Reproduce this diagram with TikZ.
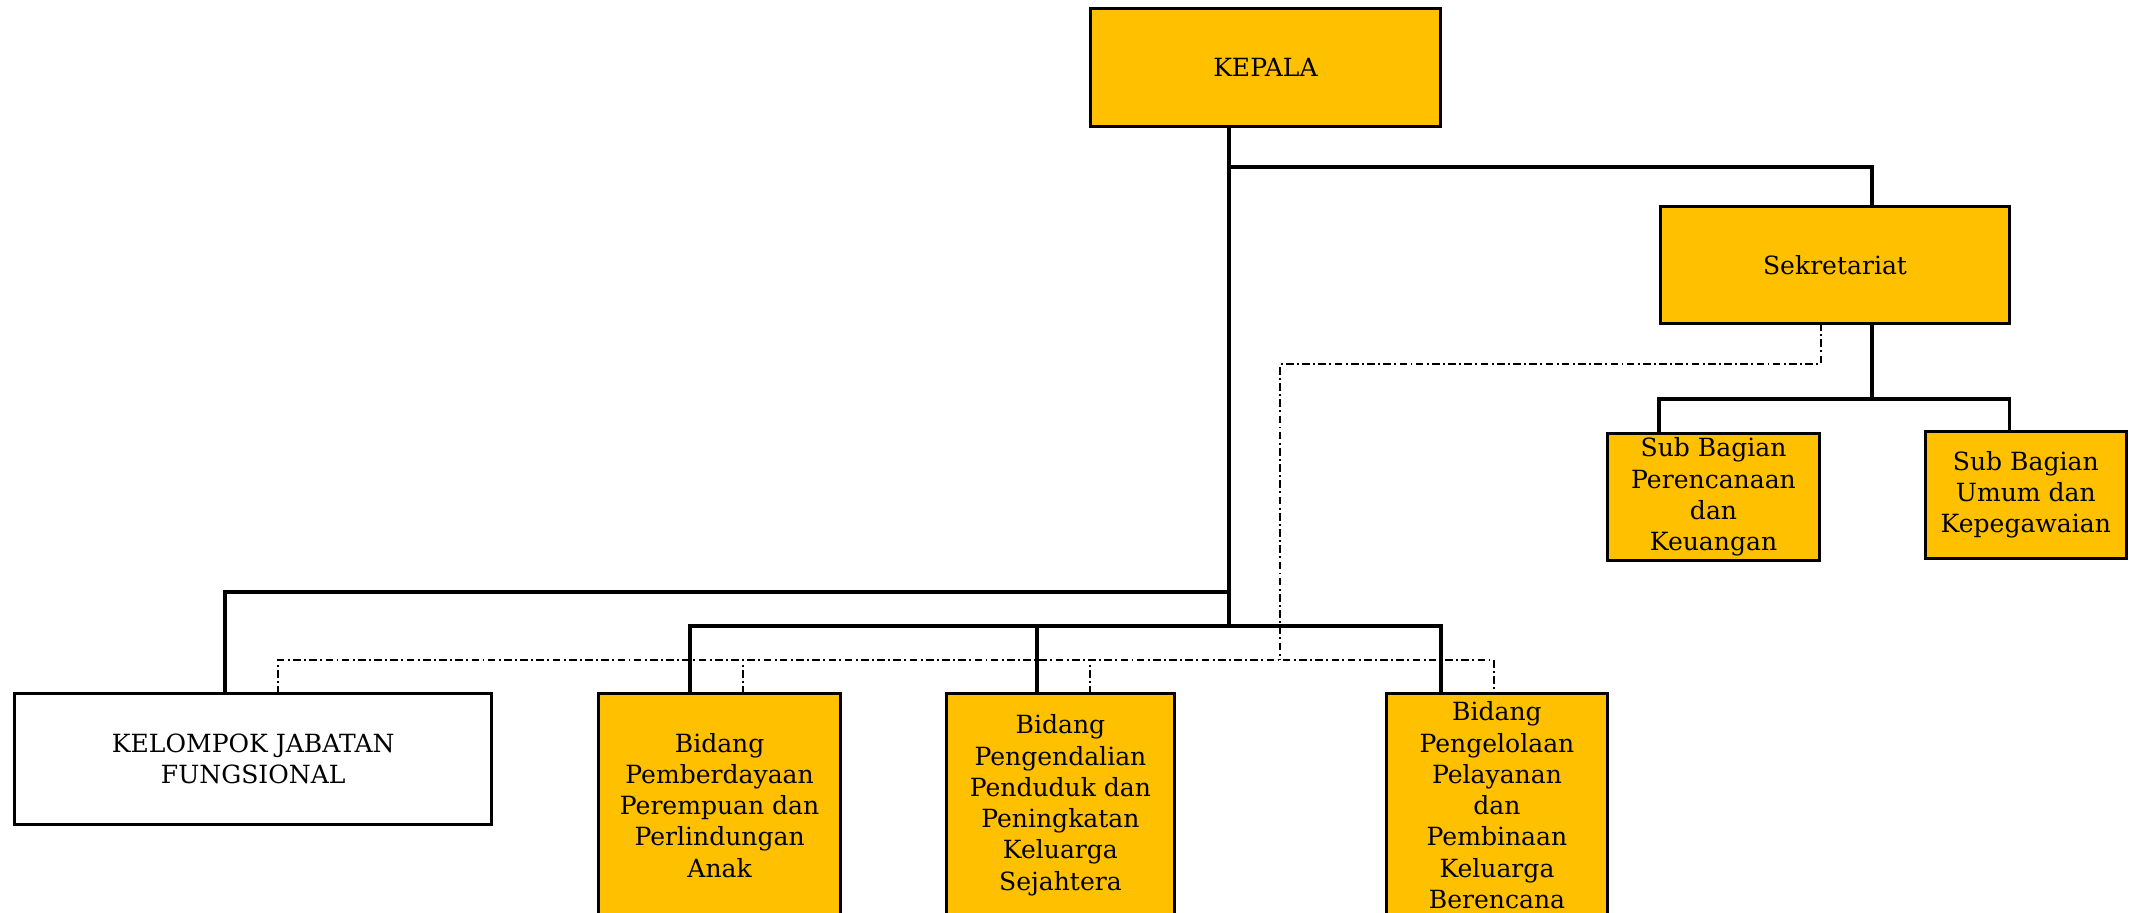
\documentclass[tikz,border=0pt]{standalone}
\usepackage{fontspec}
\setmainfont{DejaVu Serif}
\usepackage{tikz}
\usetikzlibrary{positioning, calc}
\definecolor{gold}{HTML}{FFC000}

\begin{document}
\begin{tikzpicture}[x=0.2mm, y=-0.2mm,
    unit/.style={draw=black, line width=1.3pt, fill=gold, align=center,
      inner xsep=2pt, inner ysep=0pt, font=\fontsize{10.5}{13.1}\selectfont},
    link/.style={line width=1.6pt},
    staff/.style={line width=0.9pt, dash pattern=on 3.2pt off 1.4pt on 0.8pt off 1.4pt}
]
\useasboundingbox (0,0) rectangle (1568,672);
%% top: head and secretariat
\node[unit, minimum width=5.16cm, minimum height=1.74cm] (kepala) at (932,49.5) {KEPALA};
\node[unit, minimum width=5.14cm, minimum height=1.72cm] (sekre) at (1351.5,195) {Sekretariat};
\node[unit, minimum width=3.12cm, minimum height=1.86cm] (subren) at (1262,366)
  {Sub Bagian\\Perencanaan\\dan\\Keuangan};
\node[unit, minimum width=2.96cm, minimum height=1.86cm] (subum) at (1492,364.5)
  {Sub Bagian\\Umum dan\\Kepegawaian};
%% bottom row
\node[unit, fill=white, minimum width=7.02cm, minimum height=1.92cm] (jafung) at (186.5,559)
  {KELOMPOK JABATAN\\FUNGSIONAL};
\node[unit, minimum width=3.56cm, minimum height=3.28cm] (bid1) at (530,593)
  {Bidang\\Pemberdayaan\\Perempuan dan\\Perlindungan\\Anak};
\node[unit, minimum width=3.36cm, minimum height=3.28cm] (bid2) at (781,593)
  {Bidang\\Pengendalian\\Penduduk dan\\Peningkatan\\Keluarga\\Sejahtera};
\node[unit, minimum width=3.26cm, minimum height=3.28cm] (bid3) at (1102.5,593)
  {Bidang\\Pengelolaan\\Pelayanan\\dan\\Pembinaan\\Keluarga\\Berencana};
%% junctions
\coordinate (spine0) at (905,93);
\coordinate (spine1) at (905,461);
\coordinate (jsek) at (905,123);
\coordinate (sekin) at (1379,152);
\coordinate (sekout) at (1379,238);
\coordinate (jsub) at (1379,294);
\coordinate (dren) at (1222,318);
\coordinate (dum) at (1480,318);
\coordinate (jjf) at (905,436);
\coordinate (djf) at (166,511);
\coordinate (db1) at (508,511);
\coordinate (db2) at (764,511);
\coordinate (db3) at (1061,511);
% staff lines
\coordinate (sekstaff) at (1341,238);
\coordinate (sc) at (943,268);
\coordinate (sb) at (943,486);
\coordinate (s1) at (205,511);
\coordinate (s2) at (547,511);
\coordinate (s3) at (803,511);
\coordinate (s4) at (1100,511);
%% solid lines
\draw[link] (spine0) -- (spine1);
\draw[link] (jsek) -| (sekin);
\draw[link] (sekout) -- (jsub);
\draw[link] (dren) |- (jsub) -| (dum);
\draw[link] (jjf) -| (djf);
\draw[link] (db1) |- (spine1) -| (db3);
\draw[link] (db2) -- (db2 |- spine1);
%% dash-dot lines
\draw[staff] (sekstaff) |- (sc) -- (sb);
\draw[staff] (s1) |- (sb) -| (s4);
\foreach \s in {s2,s3}{
  \draw[staff] (\s) -- (\s |- sb);
}
\end{tikzpicture}
\end{document}
